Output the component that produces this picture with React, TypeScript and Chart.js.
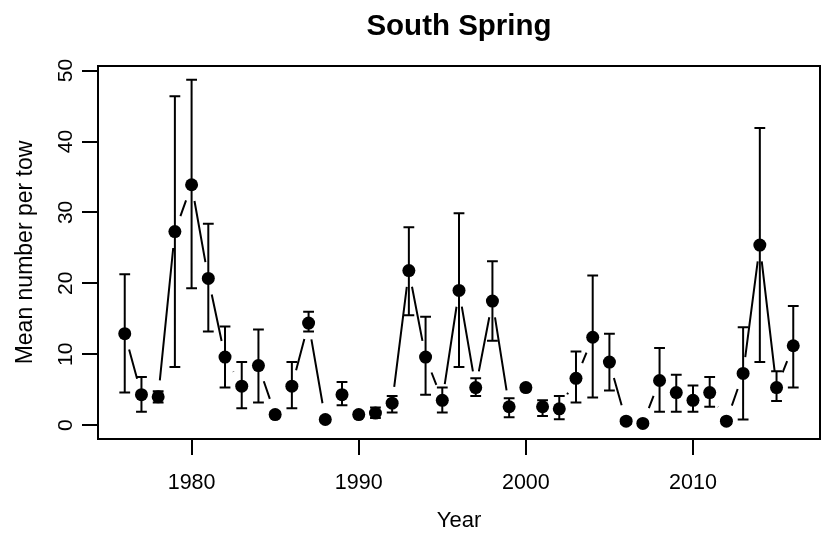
import React, { useEffect, useRef } from "react";
import { Chart, registerables } from "chart.js";

Chart.register(...registerables);

// Survey years and the mean catch with its interval bounds
const YEARS = [
  1976, 1977, 1978, 1979, 1980, 1981, 1982, 1983, 1984, 1985,
  1986, 1987, 1988, 1989, 1990, 1991, 1992, 1993, 1994, 1995,
  1996, 1997, 1998, 1999, 2000, 2001, 2002, 2003, 2004, 2005,
  2006, 2007, 2008, 2009, 2010, 2011, 2012, 2013, 2014, 2015, 2016,
];
const MEANS = [
  12.9, 4.3, 4.0, 27.3, 33.9, 20.7, 9.6, 5.5, 8.4, 1.5,
  5.5, 14.4, 0.8, 4.3, 1.5, 1.7, 3.1, 21.8, 9.6, 3.5,
  19.0, 5.3, 17.5, 2.6, 5.3, 2.6, 2.3, 6.6, 12.4, 8.9,
  0.57, 0.24, 6.3, 4.6, 3.5, 4.6, 0.57, 7.3, 25.4, 5.3, 11.2,
];
const UPPER = [
  21.3, 6.8, 4.8, 46.4, 48.7, 28.4, 13.9, 8.9, 13.5, 1.9,
  8.9, 16.0, 1.2, 6.1, 1.9, 2.5, 4.1, 27.9, 15.3, 5.3,
  29.9, 6.6, 23.1, 3.8, 5.7, 3.5, 4.1, 10.4, 21.1, 12.9,
  0.97, 0.64, 10.9, 7.1, 5.6, 6.8, 0.97, 13.8, 41.9, 7.6, 16.8,
];
const LOWER = [
  4.6, 1.9, 3.2, 8.2, 19.3, 13.2, 5.3, 2.4, 3.2, 1.1,
  2.4, 13.2, 0.4, 2.8, 1.1, 1.0, 1.8, 15.5, 4.3, 1.8,
  8.2, 4.1, 11.9, 1.1, 4.9, 1.3, 0.85, 3.2, 3.9, 4.9,
  0.17, 0.0, 1.9, 1.9, 1.9, 2.6, 0.17, 0.8, 8.9, 3.4, 5.3,
];

const X_TICKS = [1980, 1990, 2000, 2010];
const Y_TICKS = [0, 10, 20, 30, 40, 50];

const TITLE = "South Spring";
const X_TITLE = "Year";
const Y_TITLE = "Mean number per tow";

const FONT = '"Liberation Sans", Arial, Helvetica, sans-serif';
const INK = "#000000";
const GAP = 16.5; // space left around each point by the connecting lines
const CAP = 5.4; // half width of the error bar caps

// Connecting segments (broken around points) and error bars
const barsPlugin = {
  id: "barsAndSegments",
  beforeDatasetsDraw(chart: any) {
    const { ctx } = chart;
    const x = chart.scales.x;
    const y = chart.scales.y;
    ctx.save();
    ctx.strokeStyle = INK;
    ctx.lineWidth = 2;
    ctx.lineCap = "butt";

    const pts = YEARS.map((yr, i) => ({
      px: x.getPixelForValue(yr),
      py: y.getPixelForValue(MEANS[i]),
    }));
    ctx.beginPath();
    for (let i = 0; i < pts.length - 1; i++) {
      const a = pts[i];
      const b = pts[i + 1];
      const dx = b.px - a.px;
      const dy = b.py - a.py;
      const d = Math.hypot(dx, dy);
      if (d <= 2 * GAP) continue;
      const ux = dx / d;
      const uy = dy / d;
      ctx.moveTo(a.px + ux * GAP, a.py + uy * GAP);
      ctx.lineTo(b.px - ux * GAP, b.py - uy * GAP);
    }
    ctx.stroke();

    ctx.beginPath();
    YEARS.forEach((yr, i) => {
      const px = x.getPixelForValue(yr);
      const lo = y.getPixelForValue(LOWER[i]);
      const hi = y.getPixelForValue(UPPER[i]);
      ctx.moveTo(px, lo);
      ctx.lineTo(px, hi);
      ctx.moveTo(px - CAP, lo);
      ctx.lineTo(px + CAP, lo);
      ctx.moveTo(px - CAP, hi);
      ctx.lineTo(px + CAP, hi);
    });
    ctx.stroke();
    ctx.restore();
  },
};

// Frame, tick labels and titles
const textPlugin = {
  id: "frameAndText",
  afterDraw(chart: any) {
    const { ctx, chartArea } = chart;
    const x = chart.scales.x;
    const y = chart.scales.y;
    const { left, right, top, bottom } = chartArea;
    ctx.save();
    ctx.strokeStyle = INK;
    ctx.lineWidth = 2;
    ctx.strokeRect(left, top, right - left, bottom - top);

    ctx.fillStyle = INK;
    ctx.textAlign = "center";
    ctx.textBaseline = "alphabetic";

    ctx.font = `21.5px ${FONT}`;
    X_TICKS.forEach((v) => {
      ctx.fillText(String(v), x.getPixelForValue(v), bottom + 50);
    });
    ctx.font = `21px ${FONT}`;
    Y_TICKS.forEach((v) => {
      ctx.save();
      ctx.translate(left - 26, y.getPixelForValue(v));
      ctx.rotate(-Math.PI / 2);
      ctx.fillText(String(v), 0, 0);
      ctx.restore();
    });

    ctx.font = `22px ${FONT}`;
    ctx.fillText(X_TITLE, (left + right) / 2, bottom + 88);

    ctx.font = `23px ${FONT}`;
    ctx.save();
    ctx.translate(left - 66, (top + bottom) / 2);
    ctx.rotate(-Math.PI / 2);
    ctx.fillText(Y_TITLE, 0, 0);
    ctx.restore();

    ctx.font = `bold 29.5px ${FONT}`;
    ctx.fillText(TITLE, (left + right) / 2, top - 31);
    ctx.restore();
  },
};

const axisGrid = {
  display: true,
  drawOnChartArea: false,
  drawTicks: true,
  tickLength: 16,
  color: INK,
  lineWidth: 2,
};

export default function App() {
  const canvasRef = useRef<HTMLCanvasElement | null>(null);

  useEffect(() => {
    document.body.style.margin = "0";
    const canvas = canvasRef.current;
    if (!canvas) return;
    const chart = new Chart(canvas, {
      type: "line",
      data: {
        datasets: [
          {
            data: YEARS.map((yr, i) => ({ x: yr, y: MEANS[i] })),
            showLine: false,
            pointRadius: 6.5,
            pointHoverRadius: 6.5,
            pointBackgroundColor: INK,
            pointBorderColor: INK,
            pointBorderWidth: 0,
          },
        ],
      },
      options: {
        responsive: false,
        animation: false,
        devicePixelRatio: 1,
        events: [],
        layout: { padding: { top: 66, right: 7, left: 0, bottom: 0 } },
        plugins: {
          legend: { display: false },
          tooltip: { enabled: false },
          title: { display: false },
        },
        scales: {
          x: {
            type: "linear",
            min: 1974.4,
            max: 2017.6,
            afterBuildTicks: (s: any) => {
              s.ticks = X_TICKS.map((v) => ({ value: v }));
            },
            afterFit: (s: any) => {
              s.height = 94;
            },
            grid: axisGrid,
            border: { display: false },
            ticks: { display: false },
          },
          y: {
            type: "linear",
            min: -1.95,
            max: 50.65,
            afterBuildTicks: (s: any) => {
              s.ticks = Y_TICKS.map((v) => ({ value: v }));
            },
            afterFit: (s: any) => {
              s.width = 98;
            },
            grid: axisGrid,
            border: { display: false },
            ticks: { display: false },
          },
        },
      } as any,
      plugins: [barsPlugin, textPlugin],
    });
    return () => chart.destroy();
  }, []);

  return (
    <div style={{ width: 827, height: 533, background: "#fff" }}>
      <canvas ref={canvasRef} width={827} height={533} style={{ display: "block" }} />
    </div>
  );
}
